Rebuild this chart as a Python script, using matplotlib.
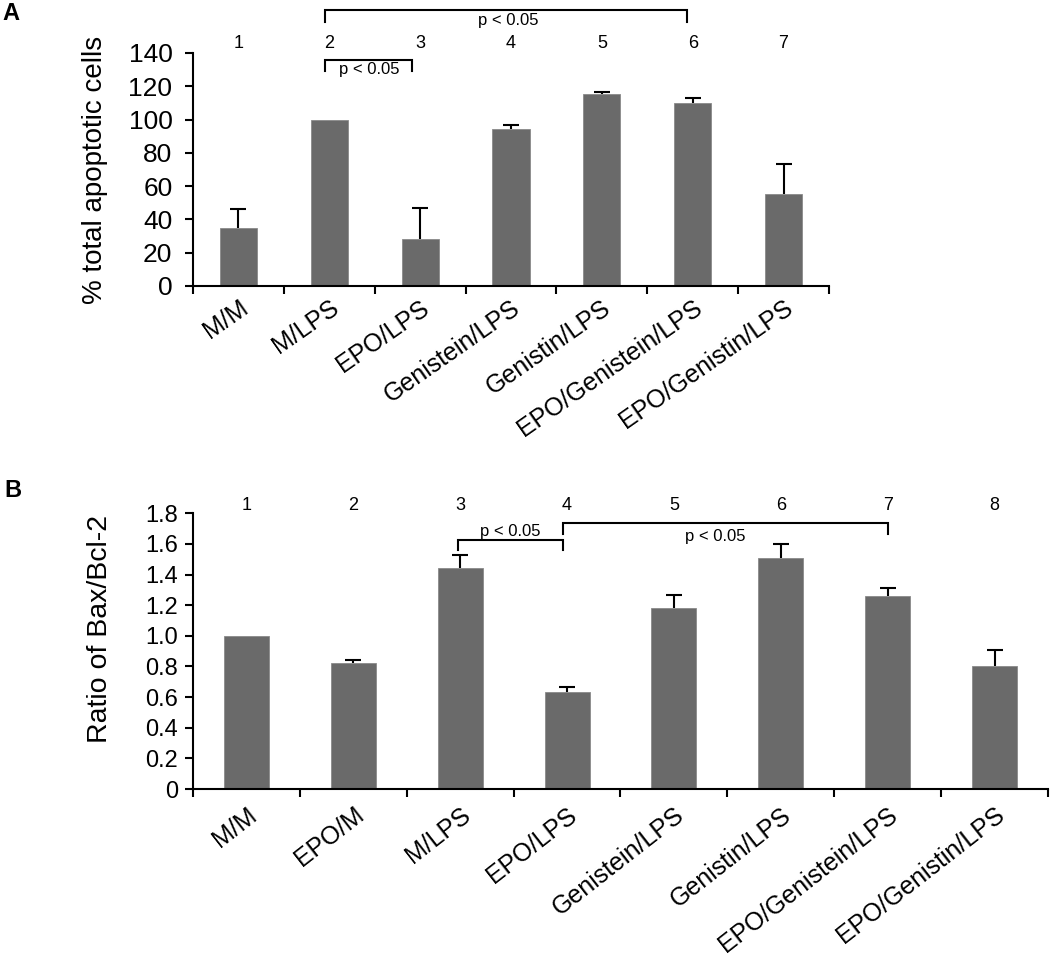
import numpy as np
import matplotlib
matplotlib.use("Agg")
import matplotlib.pyplot as plt
from matplotlib.transforms import ScaledTranslation

plt.rcParams['font.family'] = ['Liberation Sans', 'DejaVu Sans']

# panel A data
a_labels = ['M/M', 'M/LPS', 'EPO/LPS', 'Genistein/LPS', 'Genistin/LPS',
            'EPO/Genistein/LPS', 'EPO/Genistin/LPS']
a_vals = [35, 100, 28, 94.5, 115.5, 110, 55]
a_err = [11, 0, 19, 2, 1, 3, 18.5]
a_yticks = [0, 20, 40, 60, 80, 100, 120, 140]

# panel B data
b_labels = ['M/M', 'EPO/M', 'M/LPS', 'EPO/LPS', 'Genistein/LPS', 'Genistin/LPS',
            'EPO/Genistein/LPS', 'EPO/Genistin/LPS']
b_vals = [1.0, 0.82, 1.44, 0.635, 1.18, 1.51, 1.26, 0.80]
b_err = [0, 0.02, 0.085, 0.03, 0.085, 0.087, 0.05, 0.11]
b_yticks = [0, 0.2, 0.4, 0.6, 0.8, 1.0, 1.2, 1.4, 1.6, 1.8]

bar_color = '#6a6a6a'


def draw_panel(ax, labels, vals, errs, width, rot, lab_fs, lab_pad, lab_dx):
	n = len(vals)
	x = np.arange(n)
	vals = np.array(vals, dtype=float)
	errs = np.array(errs, dtype=float)
	ax.bar(x, vals, width=width, color=bar_color, edgecolor='#8a8a8a', linewidth=0.6, zorder=2)
	# upper error bars only, skip the ones with no error
	m = errs > 0
	ax.vlines(x[m], vals[m], vals[m] + errs[m], color='black', lw=1.5, zorder=3)
	ax.plot(x[m], vals[m] + errs[m], ls='none', marker='_', ms=11, mew=1.5,
		color='black', zorder=3)
	ax.set_xlim(-0.5, n - 0.5)
	ax.spines['top'].set_visible(False)
	ax.spines['right'].set_visible(False)
	ax.spines['left'].set_linewidth(1.5)
	ax.spines['bottom'].set_linewidth(1.5)
	# boundary ticks, labels on minor ticks at bar centers
	ax.set_xticks(np.arange(n + 1) - 0.5)
	ax.set_xticklabels([])
	ax.set_xticks(x, minor=True)
	ax.set_xticklabels(labels, minor=True, rotation=rot, ha='right',
		rotation_mode='anchor', fontsize=lab_fs, fontstyle='normal')
	off = ScaledTranslation(lab_dx / 72.0, 0, ax.figure.dpi_scale_trans)
	for lab in ax.get_xticklabels(minor=True):
		lab.set_transform(lab.get_transform() + off)
	ax.tick_params(axis='x', which='major', direction='out', length=5.8, width=1.5)
	ax.tick_params(axis='x', which='minor', length=0, pad=lab_pad)
	return x


def bracket(ax, x0, x1, y, drop, text, tx, ty, fs=12):
	ax.plot([x0, x0, x1, x1], [y - drop, y, y, y - drop], color='black', lw=1.5,
		clip_on=False, solid_joinstyle='miter')
	ax.text(tx, ty, text, ha='center', va='center', fontsize=fs, clip_on=False)


fig = plt.figure(figsize=(10.5, 9.58), dpi=100)

# ---- panel A ----
axA = fig.add_axes([0.1838, 0.7015, 0.6057, 0.2432])
xa = draw_panel(axA, a_labels, a_vals, a_err, 0.41, 35, 18, 7, 7)
axA.set_ylim(0, 140)
axA.set_yticks(a_yticks)
axA.set_yticklabels([str(v) for v in a_yticks], fontsize=19)
axA.tick_params(axis='y', direction='out', length=5.8, width=1.5, pad=9)
axA.set_ylabel('% total apoptotic cells', fontsize=20)
axA.yaxis.set_label_coords(-0.134, 0.5)
for i in xa:
	axA.text(i, 145.7, str(i + 1), ha='center', va='center', fontsize=13, clip_on=False)
bracket(axA, 0.952, 1.909, 135.8, 6.6, 'p < 0.05', 1.436, 129.8)
bracket(axA, 0.952, 4.94, 165.9, 7.1, 'p < 0.05', 2.965, 159.4)
fig.text(0.002, 0.986, 'A', fontsize=17, fontweight='bold', ha='left', va='center')

# ---- panel B ----
axB = fig.add_axes([0.1838, 0.1764, 0.8143, 0.2878])
xb = draw_panel(axB, b_labels, b_vals, b_err, 0.42, 38, 18, 10, 10)
axB.set_ylim(0, 1.8)
axB.set_yticks(b_yticks)
axB.set_yticklabels(['0'] + ['%.1f' % v for v in b_yticks[1:]], fontsize=17)
axB.tick_params(axis='y', direction='out', length=5.8, width=1.5, pad=5)
axB.set_ylabel('Ratio of Bax/Bcl-2', fontsize=20.5)
axB.yaxis.set_label_coords(-0.0936, 0.58)
for i in xb:
	axB.text(i, 1.854, str(i + 1), ha='center', va='center', fontsize=13, clip_on=False)
bracket(axB, 1.979, 2.961, 1.625, 0.065, 'p < 0.05', 2.47, 1.68)
bracket(axB, 2.961, 6.001, 1.734, 0.066, 'p < 0.05', 4.39, 1.647)
fig.text(0.004, 0.4885, 'B', fontsize=17, fontweight='bold', ha='left', va='center')

fig.savefig('out.png', dpi=100)
